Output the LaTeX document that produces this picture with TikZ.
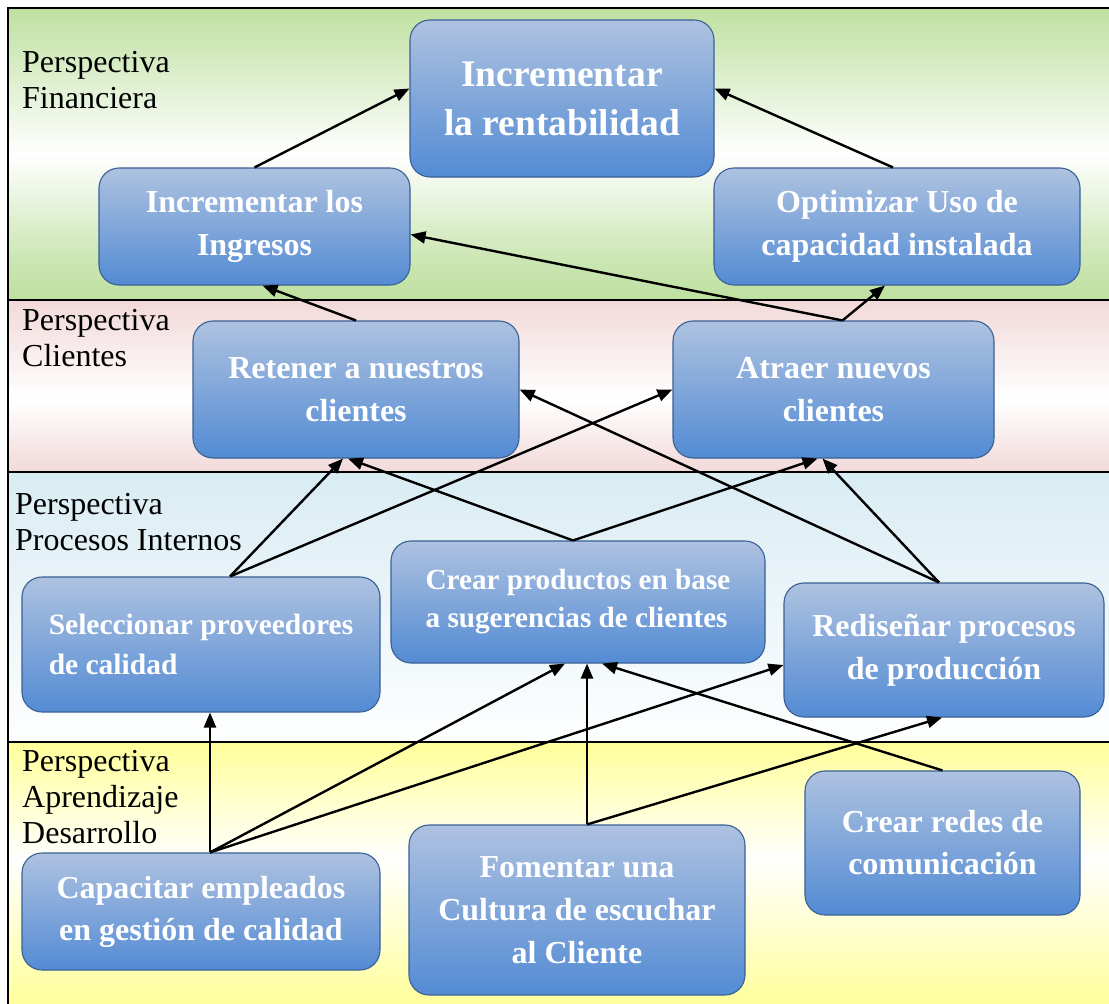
\documentclass[tikz,border=0pt]{standalone}
\usepackage{fontspec}
\setmainfont{Liberation Serif}
\usepackage{tikz}
\usetikzlibrary{arrows.meta}

\definecolor{finGreen}{RGB}{190,224,160}
\definecolor{cliPink}{RGB}{242,217,217}
\definecolor{proBlue}{RGB}{217,236,243}
\definecolor{aprYellow}{RGB}{255,255,153}
\definecolor{boxTop}{RGB}{174,194,224}
\definecolor{boxBot}{RGB}{83,139,212}
\definecolor{boxLine}{RGB}{58,96,148}

\pgfdeclareverticalshading{finband}{100bp}{color(0bp)=(finGreen); color(25bp)=(finGreen); color(32bp)=(finGreen!80!white); color(50bp)=(white); color(75bp)=(finGreen); color(100bp)=(finGreen)}
\pgfdeclareverticalshading{cliband}{100bp}{color(0bp)=(cliPink); color(25bp)=(cliPink); color(46bp)=(white); color(75bp)=(cliPink); color(100bp)=(cliPink)}
\pgfdeclareverticalshading{proband}{100bp}{color(0bp)=(white!97!proBlue); color(25bp)=(white!97!proBlue); color(75bp)=(proBlue); color(100bp)=(proBlue)}
\pgfdeclareverticalshading{aprband}{100bp}{color(0bp)=(aprYellow); color(25bp)=(aprYellow); color(53bp)=(white); color(75bp)=(aprYellow); color(100bp)=(aprYellow)}

\begin{document}
\begin{tikzpicture}[x=1pt,y=-1pt,
    band/.style={draw=black,line width=1.4pt},
    goal/.style={draw=boxLine,line width=1.1pt,rounded corners=20pt,
      top color=boxTop,bottom color=boxBot,text=white,align=center,inner sep=0pt,
      font=\bfseries\fontsize{32}{43}\selectfont},
    persp/.style={anchor=base west,align=left,inner sep=0pt,
      font=\fontsize{32}{36}\selectfont},
    link/.style={-{Triangle[length=15pt,width=12pt]},line width=2.4pt}]
        \useasboundingbox (0,0) rectangle (1109,1004);
        % Bands
        \shade[band,shading=finband] (8,8) rectangle (1112,300);
        \shade[band,shading=cliband] (8,300) rectangle (1112,472);
        \shade[band,shading=proband] (8,472) rectangle (1112,742);
        \shade[band,shading=aprband] (8,742) rectangle (1112,1008);
        % (base = last line)
        \node[persp] (pfin) at (22,108) {Perspectiva\\Financiera};
        \node[persp] (pcli) at (22,366) {Perspectiva\\Clientes};
        \node[persp] (ppro) at (15,550) {Perspectiva\\Procesos Internos};
        \node[persp] (papr) at (22,843) {Perspectiva\\Aprendizaje\\Desarrollo};
        % Objectives
        \node[goal,minimum width=304pt,minimum height=157pt,
          font=\bfseries\fontsize{37.5}{49}\selectfont] (rent) at (562,98.5) {Incrementar\\la rentabilidad};
        \node[goal,minimum width=311pt,minimum height=117pt] (ingr) at (254.5,226.5) {Incrementar los\\Ingresos};
        \node[goal,minimum width=366pt,minimum height=117pt] (optim) at (897,226.5) {Optimizar Uso de\\capacidad instalada};
        \node[goal,minimum width=326pt,minimum height=137pt] (ret) at (356,389.5) {Retener a nuestros\\clientes};
        \node[goal,minimum width=321pt,minimum height=137pt] (atr) at (833.5,389.5) {Atraer nuevos\\clientes};
        \node[goal,minimum width=358pt,minimum height=135pt,align=left,
          font=\bfseries\fontsize{29.5}{40}\selectfont] (sel) at (201,644.5) {Seleccionar proveedores\\de calidad};
        \node[goal,minimum width=374pt,minimum height=122pt,align=left,
          font=\bfseries\fontsize{29.2}{38}\selectfont] (crear) at (578,602) {Crear productos en base\\a sugerencias de clientes};
        \node[goal,minimum width=320pt,minimum height=134pt] (redis) at (944,650) {Rediseñar procesos\\de producción};
        \node[goal,minimum width=358pt,minimum height=117pt,
          font=\bfseries\fontsize{32}{42}\selectfont] (capa) at (201,911.5) {Capacitar empleados\\en gestión de calidad};
        \node[goal,minimum width=336pt,minimum height=170pt] (fomen) at (577,910) {Fomentar una\\Cultura de escuchar\\al Cliente};
        \node[goal,minimum width=275pt,minimum height=144pt,
          font=\bfseries\fontsize{32}{42}\selectfont] (redes) at (942.5,843) {Crear redes de\\comunicación};
        % Arrows
        \draw[link] (ingr.north) -- ([yshift=10pt]rent.west);
        \draw[link] ([xshift=-4pt]optim.north) -- ([yshift=10pt]rent.east);
        \draw[link] (ret.north) -- ([xshift=8pt]ingr.south);
        \draw[link] ([xshift=9pt]atr.north) -- ([yshift=-8pt]ingr.east);
        \draw[link] ([xshift=9pt]atr.north) -- ([xshift=-12pt]optim.south);
        \draw[link] ([xshift=29pt]sel.north) -- ([xshift=-13pt]ret.south);
        \draw[link] ([xshift=29pt]sel.north) -- (atr.west);
        \draw[link] ([xshift=-5pt]crear.north) -- ([xshift=-8pt]ret.south);
        \draw[link] ([xshift=-5pt]crear.north) -- ([xshift=-16pt]atr.south);
        \draw[link] ([xshift=-5pt]redis.north) -- ([xshift=-11pt]atr.south);
        \draw[link] ([xshift=-5pt]redis.north) -- (ret.east);
        \draw[link] ([xshift=9pt]capa.north) -- ([xshift=9pt]sel.south);
        \draw[link] ([xshift=9pt]capa.north) -- ([xshift=-13pt]crear.south);
        \draw[link] ([xshift=9pt]capa.north) -- ([yshift=-15pt]redis.west);
        \draw[link] ([xshift=10pt]fomen.north) -- ([xshift=9pt]crear.south);
        \draw[link] ([xshift=10pt]fomen.north) -- ([xshift=-2pt]redis.south);
        \draw[link] (redes.north) -- ([xshift=24pt]crear.south);
    \end{tikzpicture}
\end{document}
